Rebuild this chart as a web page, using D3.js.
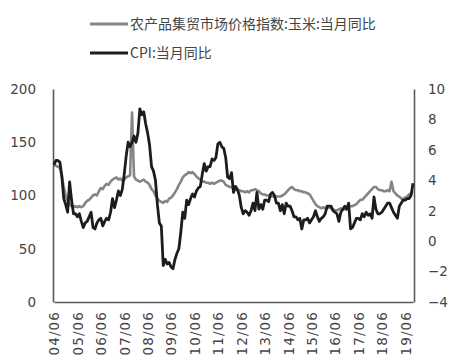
<!DOCTYPE html>
<html><head><meta charset="utf-8">
<script src="https://cdn.jsdelivr.net/npm/d3@7"></script>
<style>body{margin:0;background:#fff}svg{display:block}</style>
</head><body>
<svg id="c" width="461" height="360"></svg>
<script>
const startYear = 2004, startMonth = 6;
const seriesNames = ["农产品集贸市场价格指数:玉米:当月同比", "CPI:当月同比"];
const cornIndex = [
128,128,127,126,118,108,100,
95,92,90,89,90,89,90,89,90,93,95,96,
98,100,101,100,104,107,106,109,111,110,113,115,
116,117,115,116,114,115,117,118,119,178,118,115,
114,113,114,115,113,112,110,106,104,100,97,95,
94,93,95,94,97,98,100,103,106,110,113,117,
119,120,122,121,122,120,118,116,115,113,113,112,
112,111,112,111,112,113,114,114,113,110,109,108,
108,106,106,105,105,104,104,103,104,103,105,105,
106,105,104,102,101,101,100,100,99,99,99,99,
99,99,100,101,103,105,107,108,106,105,105,104,
104,103,103,102,101,98,95,92,90,89,88,89,
88,88,89,88,87,86,86,87,88,87,87,88,
89,90,90,91,92,94,96,96,98,100,102,104,
106,108,108,106,105,105,104,104,105,104,113,104,
102,100,99,97,97,98,99,101,102,104
];
const cpi = [
5.0,5.3,5.3,5.2,4.3,2.8,2.4,
1.9,3.9,2.7,1.8,1.8,1.6,1.8,1.3,0.9,1.2,1.3,1.6,
1.9,0.9,0.8,1.2,1.4,1.5,1.0,1.3,1.5,1.4,1.9,2.8,
2.2,2.7,3.3,3.0,3.4,4.4,5.6,6.5,6.2,6.5,6.9,6.5,
7.1,8.7,8.3,8.5,7.7,7.1,6.3,4.9,4.6,4.0,2.4,1.2,
1.0,-1.6,-1.2,-1.5,-1.4,-1.7,-1.8,-1.2,-0.8,-0.5,0.6,1.9,
1.5,2.7,2.4,2.8,3.1,2.9,3.3,3.5,3.6,4.4,5.1,4.6,
4.9,4.9,5.4,5.3,5.5,6.4,6.5,6.2,6.1,5.5,4.2,4.1,
4.5,3.2,3.6,3.4,3.0,2.2,1.8,2.0,1.9,1.7,2.0,2.5,
2.0,3.2,2.1,2.4,2.1,2.7,2.7,2.6,3.1,3.2,3.0,2.5,
2.5,2.0,2.4,1.8,2.5,2.3,2.3,2.0,1.6,1.6,1.4,1.5,
0.8,1.4,1.4,1.5,1.2,1.4,1.6,2.0,1.6,1.3,1.5,1.6,
1.8,2.3,2.3,2.3,2.0,1.9,1.8,1.3,1.9,2.1,2.3,2.1,
2.5,0.8,0.9,1.2,1.5,1.5,1.4,1.8,1.6,1.9,1.7,1.8,
1.5,2.9,2.1,1.8,1.8,1.9,2.1,2.3,2.5,2.5,2.2,1.9,
1.7,1.5,2.3,2.5,2.7,2.7,2.8,2.8,3.0,3.8
];
const xTickLabels = ["04/06","05/06","06/06","07/06","08/06","09/06","10/06","11/06","12/06","13/06","14/06","15/06","16/06","17/06","18/06","19/06"];
const leftTicks = [0,50,100,150,200];
const rightTicks = [-4,-2,0,2,4,6,8,10];

const months = cpi.map((_, i) => {
  const m = startMonth - 1 + i;
  const y = startYear + Math.floor(m / 12);
  return String(y % 100).padStart(2, "0") + "/" + String(m % 12 + 1).padStart(2, "0");
});

const svg = d3.select("#c");
const L = 53, R = 414, T = 89, B = 302;
const x = d3.scaleLinear().domain([0, months.length - 1]).range([L + 1, R - 1]);
const yL = d3.scaleLinear().domain([0, 200]).range([B, T]);
const yR = d3.scaleLinear().domain([-4, 10]).range([B, T]);
const axisColor = "#5a5a5a", textColor = "#444444";
const numFont = "'DejaVu Sans', sans-serif";

const leftAxis = svg.append("g").attr("transform", `translate(${L},0)`)
  .call(d3.axisLeft(yL).tickValues(leftTicks).tickSize(0).tickPadding(17));
const rightAxis = svg.append("g").attr("transform", `translate(${R},0)`)
  .call(d3.axisRight(yR).tickValues(rightTicks).tickSize(0).tickPadding(14));
const bottomAxis = svg.append("g").attr("transform", `translate(0,${B})`)
  .call(d3.axisBottom(x).tickValues(xTickLabels.map(l => months.indexOf(l))).tickSize(0).tickFormat(i => months[i]));
[leftAxis, rightAxis, bottomAxis].forEach(g => {
  g.select(".domain").attr("stroke", axisColor).attr("stroke-width", 1.6);
  g.selectAll("text").attr("fill", textColor).style("font-family", numFont).style("font-size", "13.5px");
});
bottomAxis.selectAll("text")
  .attr("text-anchor", "end")
  .attr("transform", "rotate(-90)")
  .attr("x", -9).attr("y", 0).attr("dy", "0.36em")
  .style("font-size", "13.5px").style("letter-spacing", "1.1px");

const lineL = d3.line().x((d, i) => x(i)).y(d => yL(d));
const lineR = d3.line().x((d, i) => x(i)).y(d => yR(d));
svg.append("path").datum(cornIndex).attr("d", lineL)
  .attr("fill", "none").attr("stroke", "#858585").attr("stroke-width", 2.6).attr("stroke-linejoin", "round");
svg.append("path").datum(cpi).attr("d", lineR)
  .attr("fill", "none").attr("stroke", "#1c1c1c").attr("stroke-width", 2.8).attr("stroke-linejoin", "round");

const legend = svg.append("g");
const legColors = ["#858585", "#1c1c1c"];
seriesNames.forEach((name, k) => {
  const yy = 24 + k * 29;
  legend.append("line").attr("x1", 90).attr("x2", 128).attr("y1", yy).attr("y2", yy)
    .attr("stroke", legColors[k]).attr("stroke-width", 3);
  legend.append("text").attr("x", 130).attr("y", yy).attr("dy", "0.35em")
    .attr("fill", textColor)
    .style("font-family", "'Noto Sans CJK SC', sans-serif").style("font-size", "14px")
    .text(name);
});
</script>
</body></html>
